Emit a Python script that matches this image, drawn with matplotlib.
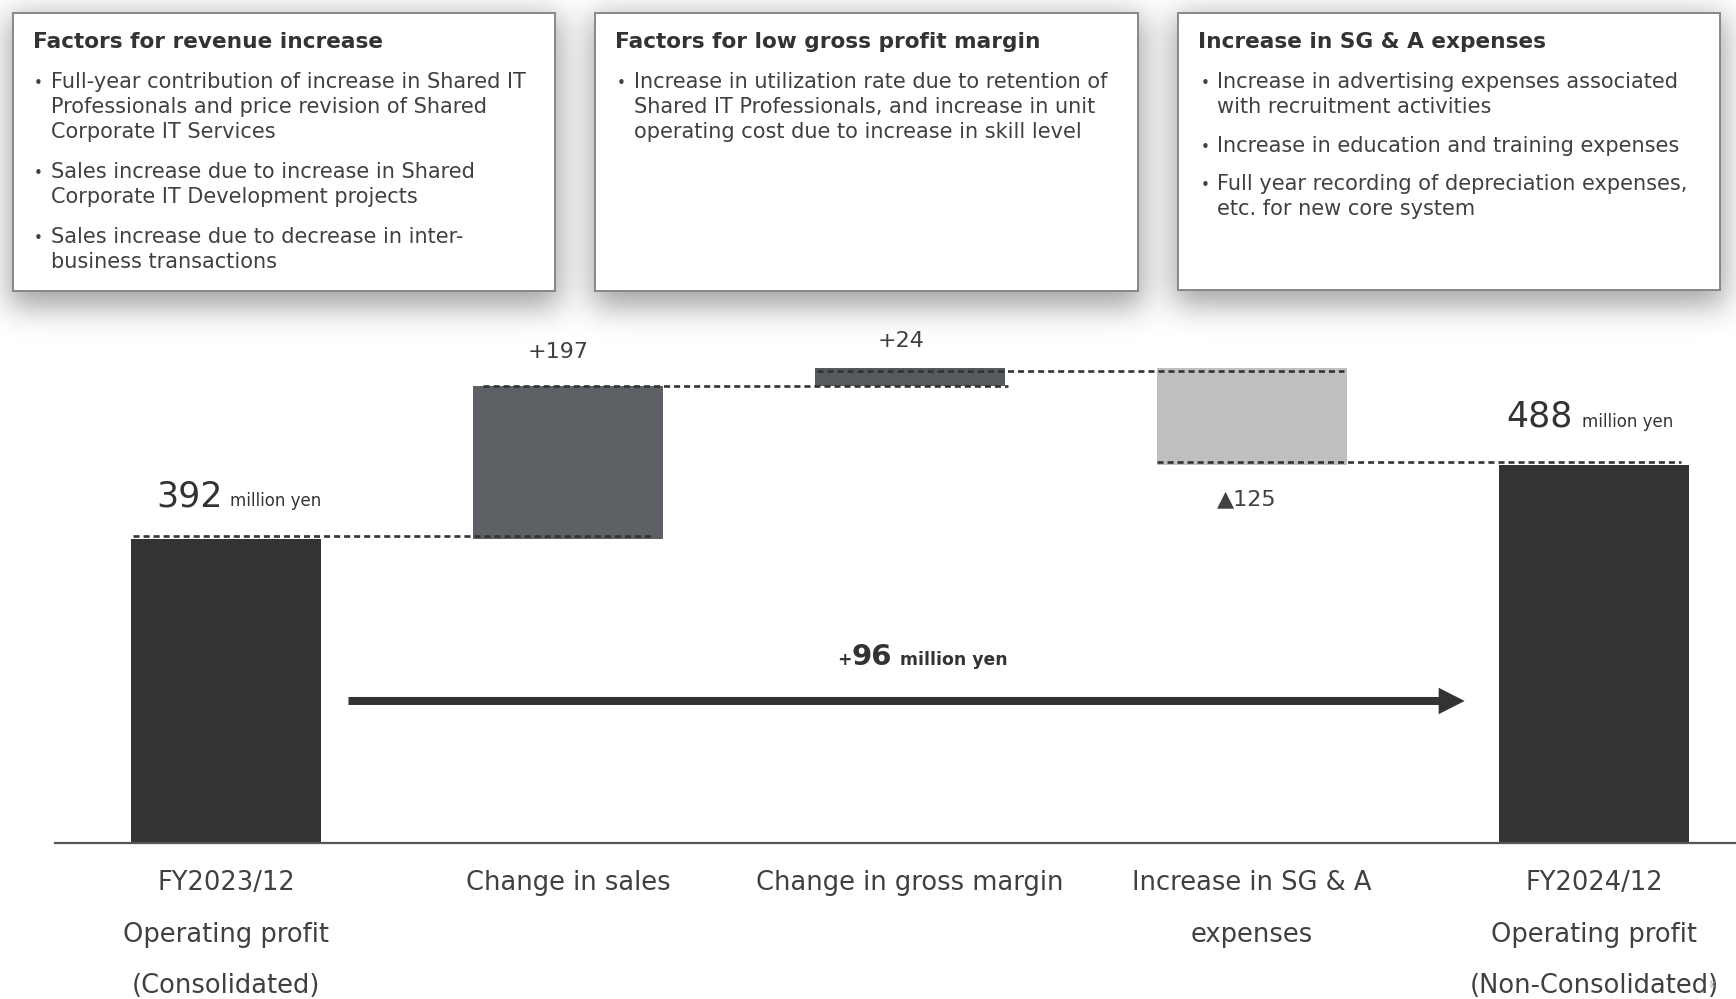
import numpy as np
import matplotlib
matplotlib.use("Agg")
import matplotlib.pyplot as plt
from matplotlib.patches import Rectangle, FancyArrowPatch
from matplotlib.transforms import blended_transform_factory

plt.rcParams['font.family'] = ['DejaVu Sans']

# ---------------- data ----------------
categories = [
    ["FY2023/12", "Operating profit", "(Consolidated)"],
    ["Change in sales"],
    ["Change in gross margin"],
    ["Increase in SG & A", "expenses"],
    ["FY2024/12", "Operating profit", "(Non-Consolidated)"],
]
start_value = 392
changes = [197, 24, -125]
change_labels = ["+197", "+24", "\u25b2125"]
end_value = 488
unit = "million yen"

box_titles = [
    "Factors for revenue increase",
    "Factors for low gross profit margin",
    "Increase in SG & A expenses",
]
box_bullets = [
    [["Full-year contribution of increase in Shared IT",
      "Professionals and price revision of Shared",
      "Corporate IT Services"],
     ["Sales increase due to increase in Shared",
      "Corporate IT Development projects"],
     ["Sales increase due to decrease in inter-",
      "business transactions"]],
    [["Increase in utilization rate due to retention of",
      "Shared IT Professionals, and increase in unit",
      "operating cost due to increase in skill level"]],
    [["Increase in advertising expenses associated",
      "with recruitment activities"],
     ["Increase in education and training expenses"],
     ["Full year recording of depreciation expenses,",
      "etc. for new core system"]],
]

# ---------------- layout ----------------
W, H = 1736, 999
fig = plt.figure(figsize=(W / 100, H / 100), dpi=100)
fig.patch.set_facecolor("white")

def fx(px):
    return px / W

def fy(py):
    return 1 - py / H

TEXT = "#404040"
DARK = "#333333"

# text boxes (pixel rectangles: left, top, right, bottom)
boxes = [(12.5, 12.7, 555, 291), (595, 12.7, 1138, 291), (1177.6, 12.7, 1720, 289.5)]
title_x = [33.3, 615, 1197.8]
bullet_x = [34, 617, 1201]
text_x = [51, 634.4, 1217]
para_gap = [40, 40, 38.4]

# soft drop shadow behind the boxes
mask = np.zeros((H, W))
for (l, t, r, b) in boxes:
    mask[int(t + 4):int(b + 16), int(l - 3):int(r + 5)] = 1.0

def gblur(a, sigma):
    rad = int(3 * sigma)
    k = np.exp(-0.5 * (np.arange(-rad, rad + 1) / sigma) ** 2)
    k /= k.sum()
    a = np.apply_along_axis(lambda m: np.convolve(m, k, mode="same"), 0, a)
    a = np.apply_along_axis(lambda m: np.convolve(m, k, mode="same"), 1, a)
    return a

mask = gblur(mask, 15)
shadow = np.zeros((H, W, 4))
shadow[..., :3] = 0.25
shadow[..., 3] = 0.48 * mask
fig.figimage(shadow, xo=0, yo=0, origin="upper", zorder=0)

for i, (l, t, r, b) in enumerate(boxes):
    fig.add_artist(Rectangle((fx(l), fy(b)), fx(r - l), (b - t) / H,
                             transform=fig.transFigure, facecolor="white",
                             edgecolor="#808080", linewidth=1.3, zorder=1))
    fig.text(fx(title_x[i]), fy(48.3), box_titles[i], fontsize=15.6,
             fontweight="bold", color=DARK, ha="left", va="baseline", zorder=3)
    y = 88.3
    for para in box_bullets[i]:
        fig.text(fx(bullet_x[i]), fy(y), "\u2022", fontsize=11, color=TEXT,
                 ha="left", va="baseline", zorder=3)
        for line in para:
            fig.text(fx(text_x[i]), fy(y), line, fontsize=15, color=TEXT,
                     ha="left", va="baseline", zorder=3)
            y += 25
        y += para_gap[i] - 25

# ---------------- waterfall ----------------
px_per_unit = 0.7742
ymax = 700
step = 342
left_px, base_px = 55, 842.5
ax = fig.add_axes([fx(left_px), (H - base_px) / H, (W - left_px) / W,
                   ymax * px_per_unit / H], zorder=2)
ax.patch.set_visible(False)
ax.set_xlim(-0.5, -0.5 + (W - left_px) / step)
ax.set_ylim(0, ymax)
ax.axis("off")

levels = np.concatenate([[start_value], start_value + np.cumsum(changes)])
n = len(categories)
x = np.arange(n)
heights = [start_value] + [abs(c) for c in changes] + [end_value]
bottoms = [0] + [min(levels[i], levels[i + 1]) for i in range(len(changes))] + [0]
bar_colors = [DARK, "#5d6165", "#56595d", "#bfbfbf", DARK]
w = 0.556
ax.bar(x, heights, bottom=bottoms, width=w, color=bar_colors, zorder=2)

# baseline
ax.axhline(0, color="#555555", lw=1.6, zorder=3, clip_on=False)

# dashed connectors between consecutive levels (offset slightly off the bar edge)
conn = [
    (levels[0] + 4, 0 - w / 2 + 0.005, 1 + w / 2 - 0.03),
    (levels[1] + 1, 1 - w / 2 + 0.03, 2 + w / 2 + 0.01),
    (levels[2] - 4, 2 - w / 2 + 0.005, 3 + w / 2 - 0.01),
    (levels[3] + 3, 3 - w / 2, 4 + w / 2 - 0.025),
]
for lv, x0, x1 in conn:
    ax.plot([x0, x1], [lv, lv], color=DARK, lw=1.9,
            linestyle=(0, (2.3, 1.5)), zorder=4, solid_capstyle="butt")

# change labels
ax.text(0.971, 625.2, change_labels[0], fontsize=16, color=TEXT,
        ha="center", va="baseline")
ax.text(1.975, 640.4, change_labels[1], fontsize=16, color=TEXT,
        ha="center", va="baseline")
ax.text(2.984, 435, change_labels[2], fontsize=16, color=TEXT,
        ha="center", va="baseline")

# totals
ax.text(-0.205, 434.6, f"{start_value}", fontsize=25, color=DARK,
        ha="left", va="baseline")
ax.text(0.012, 434.6, unit, fontsize=12, color=DARK, ha="left", va="baseline")
ax.text(3.743, 537.1, f"{end_value}", fontsize=25, color=DARK,
        ha="left", va="baseline")
ax.text(3.965, 537.1, unit, fontsize=12, color=DARK, ha="left", va="baseline")

# overall change arrow
total_change = end_value - start_value
arrow = FancyArrowPatch((0.35, 182.8), (3.63, 182.8),
                        arrowstyle="simple,head_length=0.65,head_width=0.66,tail_width=0.2",
                        mutation_scale=28.8, color=DARK, lw=0, zorder=3)
ax.add_patch(arrow)
ax.text(1.787, 229.3, "+", fontsize=12.4, fontweight="bold", color=DARK,
        ha="left", va="baseline")
ax.text(1.830, 229.3, f"{total_change}", fontsize=21, fontweight="bold",
        color=DARK, ha="left", va="baseline")
ax.text(1.971, 229.3, unit, fontsize=12.4, fontweight="bold", color=DARK,
        ha="left", va="baseline")

# category labels
trans = blended_transform_factory(ax.transData, fig.transFigure)
line_y = [883, 934.5, 986]
for i, lines in enumerate(categories):
    for j, line in enumerate(lines):
        ax.text(x[i], fy(line_y[j]), line, fontsize=18.5, color=TEXT,
                ha="center", va="center", transform=trans, clip_on=False)

fig.text(fx(1711.7), fy(985), "\u203b", fontsize=7, color="#888888",
         ha="center", va="center", zorder=3)

fig.savefig("out.png", dpi=100, facecolor="white")
